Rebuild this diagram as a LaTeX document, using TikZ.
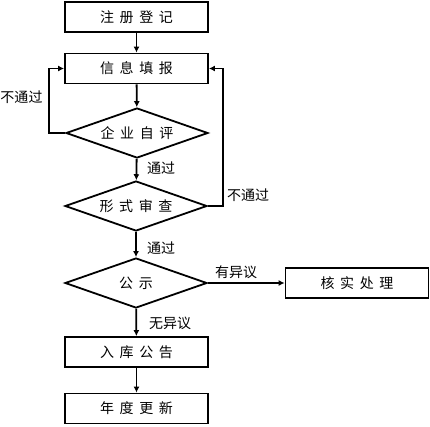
\documentclass[tikz,border=0pt]{standalone}
\usepackage{fontspec}
\setmainfont{Noto Sans CJK SC}
\newfontfamily\cjkwide[LetterSpace=40]{Noto Sans CJK SC}
\usetikzlibrary{shapes.geometric,arrows.meta}
\begin{document}
\begin{tikzpicture}[x=1pt,y=-1pt,
  box/.style={draw,line width=1.8pt,rectangle,minimum width=143pt,minimum height=30pt,inner sep=0pt,font=\fontsize{14}{14}\selectfont\cjkwide},
  dia/.style={draw,line width=1.8pt,diamond,aspect=2.84,minimum width=142pt,minimum height=50pt,inner sep=0pt,font=\fontsize{14}{14}\selectfont\cjkwide},
  arr/.style={line width=1.8pt,-{Latex[length=6pt,width=6pt]}},
  lab/.style={font=\fontsize{14}{14}\selectfont,inner sep=0pt}]
\useasboundingbox (0,0) rectangle (430,426);
\node[box] (reg) at (136.5,17) {注册登记};
\node[box] (fill) at (136.5,68.5) {信息填报};
\node[dia] (self) at (137,133) {企业自评};
\node[dia] (form) at (136,206) {形式审查};
\node[dia] (pub) at (136,283) {公示};
\node[box] (chk) at (357,283) {核实处理};
\node[box] (ent) at (136.5,352) {入库公告};
\node[box] (yr) at (136.5,408.5) {年度更新};
\draw[arr] (reg) -- (fill);
\draw[arr] (fill) -- (self);
\draw[arr] (self) -- (form);
\draw[arr] (form) -- (pub);
\draw[arr] (pub) -- (ent);
\draw[arr] (ent) -- (yr);
\draw[arr] (pub.east) -- (chk.west);
\draw[arr] (self.west) -- ++(-16,0) |- (fill.west);
\draw[arr] (form.east) -- ++(15,0) |- (fill.east);
\node[lab] (l1) at (161,168) {通过};
\node[lab] (l2) at (161,248) {通过};
\node[lab] (l3) at (170,323) {无异议};
\node[lab] (l4) at (236,272) {有异议};
\node[lab] (l5) at (21.5,97) {不通过};
\node[lab] (l6) at (248,195) {不通过};
\end{tikzpicture}
\end{document}
